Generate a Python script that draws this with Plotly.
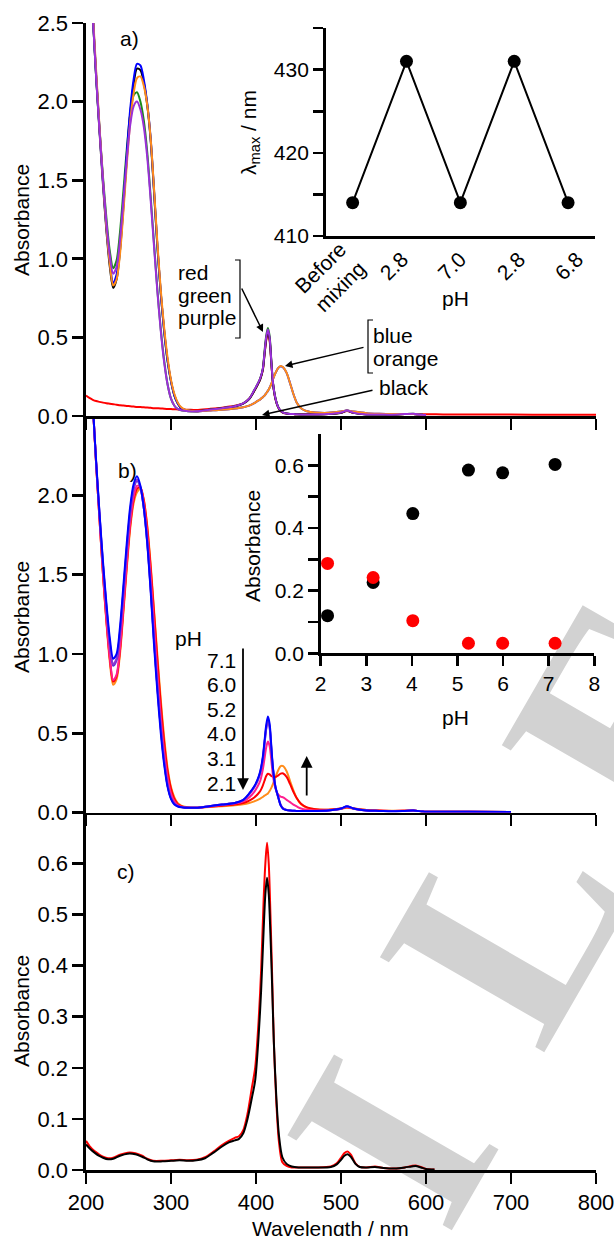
import plotly.graph_objects as go

# ---------------- DATA ----------------
WL_UV = [200, 204, 208, 212, 216, 220, 224, 228, 232, 236, 240, 244, 248, 252, 256, 260,
         264, 268, 272, 276, 280, 284, 288, 292, 296, 300, 304, 308, 312, 316, 320]
WL_VIS = [330, 345, 360, 375, 385, 392, 398, 402, 405, 408, 410, 412, 414, 416, 418, 420,
          423, 426, 429, 432, 436, 440, 444, 448, 453, 460, 470, 485, 500, 507, 515, 530,
          545, 560, 575, 585, 595, 600]
WL_VIS_B = WL_VIS + [650, 700]
WL_RED_TAIL = [620, 660, 700, 750, 800]

# panel a
A_RED_UV = [0.13, 0.115, 0.103, 0.095, 0.09, 0.085, 0.081, 0.078, 0.075, 0.072, 0.068, 0.066,
            0.064, 0.062, 0.06, 0.058, 0.057, 0.055, 0.054, 0.052, 0.05, 0.049, 0.048, 0.046,
            0.045, 0.044, 0.043, 0.042, 0.041, 0.04, 0.04]
A_RED_VIS = [0.038, 0.045, 0.053, 0.065, 0.08, 0.11, 0.16, 0.2, 0.235, 0.29, 0.39, 0.48, 0.53,
             0.48, 0.34, 0.205, 0.105, 0.055, 0.032, 0.02, 0.015, 0.013, 0.012, 0.011, 0.011,
             0.011, 0.011, 0.012, 0.02, 0.032, 0.02, 0.012, 0.011, 0.01, 0.012, 0.013, 0.011, 0.011]
A_RED_TAIL = [0.01, 0.009, 0.009, 0.008, 0.008]

A_GREEN_UV = [3.5, 3.0, 2.55, 2.15, 1.82, 1.52, 1.26, 1.05, 0.94, 0.99, 1.17, 1.43, 1.7, 1.92,
              2.04, 2.06, 2.0, 1.88, 1.68, 1.4, 1.1, 0.8, 0.55, 0.35, 0.2, 0.11, 0.065, 0.045,
              0.037, 0.033, 0.03]
A_GREEN_VIS = [0.03, 0.04, 0.05, 0.062, 0.08, 0.11, 0.165, 0.205, 0.24, 0.3, 0.41, 0.51, 0.56,
               0.51, 0.355, 0.21, 0.11, 0.058, 0.034, 0.022, 0.016, 0.013, 0.012, 0.011, 0.01,
               0.01, 0.01, 0.012, 0.022, 0.035, 0.02, 0.01, 0.01, 0.008, 0.012, 0.014, 0.008, 0.006]

A_BLACK_UV = [3.5, 3.0, 2.55, 2.15, 1.8, 1.47, 1.18, 0.95, 0.815, 0.87, 1.05, 1.33, 1.64, 1.92,
              2.11, 2.21, 2.2, 2.12, 1.98, 1.76, 1.43, 1.08, 0.78, 0.54, 0.35, 0.22, 0.13, 0.08,
              0.05, 0.04, 0.035]
A_BLACK_VIS = [0.03, 0.04, 0.05, 0.06, 0.078, 0.108, 0.16, 0.2, 0.235, 0.295, 0.39, 0.49, 0.54,
               0.49, 0.345, 0.207, 0.108, 0.057, 0.033, 0.021, 0.016, 0.013, 0.012, 0.011, 0.01,
               0.01, 0.01, 0.012, 0.021, 0.034, 0.02, 0.01, 0.01, 0.008, 0.012, 0.013, 0.008, 0.006]

A_BLUE_UV = [3.5, 3.0, 2.56, 2.17, 1.82, 1.49, 1.2, 0.98, 0.845, 0.9, 1.08, 1.36, 1.67, 1.95,
             2.14, 2.24, 2.23, 2.14, 1.99, 1.77, 1.44, 1.08, 0.78, 0.54, 0.35, 0.22, 0.13, 0.08,
             0.05, 0.04, 0.035]
A_BLUE_VIS = [0.03, 0.035, 0.04, 0.048, 0.056, 0.066, 0.082, 0.096, 0.106, 0.12, 0.13, 0.145,
              0.16, 0.18, 0.205, 0.235, 0.274, 0.304, 0.317, 0.309, 0.274, 0.21, 0.14, 0.085,
              0.05, 0.03, 0.022, 0.02, 0.028, 0.035, 0.028, 0.018, 0.014, 0.012, 0.013, 0.013,
              0.008, 0.006]

A_ORANGE_UV = [3.5, 3.0, 2.58, 2.19, 1.83, 1.5, 1.2, 0.97, 0.83, 0.87, 1.03, 1.3, 1.6, 1.87,
               2.05, 2.15, 2.16, 2.1, 1.98, 1.77, 1.45, 1.1, 0.8, 0.56, 0.37, 0.23, 0.14, 0.085,
               0.055, 0.042, 0.036]
A_ORANGE_VIS = [0.03, 0.035, 0.04, 0.048, 0.056, 0.066, 0.082, 0.096, 0.106, 0.12, 0.13, 0.145,
                0.16, 0.18, 0.205, 0.235, 0.275, 0.305, 0.318, 0.31, 0.275, 0.21, 0.14, 0.085,
                0.05, 0.03, 0.022, 0.02, 0.028, 0.035, 0.028, 0.018, 0.014, 0.012, 0.013, 0.013,
                0.008, 0.006]

A_PURPLE_UV = [3.5, 3.0, 2.55, 2.15, 1.81, 1.5, 1.23, 1.02, 0.905, 0.95, 1.12, 1.37, 1.63, 1.85,
               1.97, 2.0, 1.95, 1.84, 1.65, 1.38, 1.08, 0.79, 0.54, 0.34, 0.2, 0.11, 0.065,
               0.045, 0.037, 0.033, 0.03]
A_PURPLE_VIS = [0.03, 0.04, 0.05, 0.062, 0.08, 0.11, 0.165, 0.205, 0.24, 0.3, 0.4, 0.5, 0.55,
                0.5, 0.35, 0.21, 0.11, 0.058, 0.034, 0.022, 0.016, 0.013, 0.012, 0.011, 0.01,
                0.01, 0.01, 0.012, 0.022, 0.035, 0.02, 0.01, 0.01, 0.008, 0.012, 0.014, 0.008, 0.006]

# panel b (pH series)
B_ORANGE_UV = [3.5, 3.0, 2.58, 2.19, 1.84, 1.5, 1.2, 0.95, 0.805, 0.84, 1.0, 1.26, 1.54, 1.79,
               1.95, 2.02, 2.04, 1.97, 1.81, 1.57, 1.28, 0.99, 0.71, 0.47, 0.28, 0.16, 0.095,
               0.058, 0.043, 0.036, 0.032]
B_ORANGE_VIS = [0.03, 0.035, 0.04, 0.046, 0.052, 0.06, 0.07, 0.08, 0.088, 0.098, 0.106, 0.113,
                0.12, 0.135, 0.155, 0.18, 0.225, 0.265, 0.292, 0.292, 0.26, 0.2, 0.14, 0.09,
                0.052, 0.03, 0.02, 0.018, 0.025, 0.03, 0.025, 0.016, 0.013, 0.011, 0.012, 0.012,
                0.007, 0.005, 0.004, 0.003]
B_RED_UV = [3.5, 3.0, 2.58, 2.19, 1.84, 1.5, 1.21, 0.97, 0.825, 0.86, 1.02, 1.28, 1.56, 1.81,
            1.97, 2.04, 2.05, 1.97, 1.8, 1.55, 1.26, 0.96, 0.68, 0.44, 0.26, 0.15, 0.085, 0.052,
            0.04, 0.034, 0.031]
B_RED_VIS = [0.03, 0.036, 0.043, 0.05, 0.06, 0.075, 0.095, 0.115, 0.135, 0.17, 0.2, 0.23, 0.244,
             0.24, 0.23, 0.225, 0.224, 0.233, 0.245, 0.246, 0.225, 0.18, 0.13, 0.09, 0.055,
             0.032, 0.02, 0.017, 0.025, 0.033, 0.025, 0.015, 0.012, 0.01, 0.011, 0.012, 0.007,
             0.005, 0.004, 0.003]
B_MAGENTA_UV = [3.5, 3.0, 2.58, 2.19, 1.84, 1.51, 1.22, 0.98, 0.835, 0.87, 1.04, 1.3, 1.58,
                1.83, 1.99, 2.06, 2.05, 1.95, 1.76, 1.5, 1.19, 0.88, 0.6, 0.38, 0.22, 0.12, 0.07,
                0.045, 0.036, 0.032, 0.03]
B_MAGENTA_VIS = [0.03, 0.038, 0.047, 0.056, 0.07, 0.095, 0.13, 0.165, 0.2, 0.27, 0.34, 0.41,
                 0.447, 0.42, 0.33, 0.23, 0.15, 0.115, 0.1, 0.095, 0.08, 0.065, 0.05, 0.038,
                 0.025, 0.017, 0.013, 0.014, 0.024, 0.035, 0.024, 0.013, 0.011, 0.009, 0.011,
                 0.012, 0.007, 0.005, 0.004, 0.003]
B_VIOLET_UV = [3.5, 3.0, 2.58, 2.2, 1.87, 1.56, 1.29, 1.06, 0.925, 0.96, 1.13, 1.39, 1.66, 1.89,
               2.04, 2.09, 2.05, 1.92, 1.71, 1.42, 1.09, 0.79, 0.53, 0.32, 0.17, 0.09, 0.055,
               0.04, 0.034, 0.031, 0.03]
B_VIOLET_VIS = [0.03, 0.04, 0.05, 0.06, 0.079, 0.117, 0.162, 0.205, 0.253, 0.34, 0.437, 0.533,
                0.585, 0.543, 0.407, 0.273, 0.157, 0.1, 0.048, 0.026, 0.016, 0.012, 0.011, 0.01,
                0.01, 0.01, 0.01, 0.013, 0.024, 0.038, 0.024, 0.012, 0.01, 0.008, 0.01, 0.012,
                0.007, 0.005, 0.004, 0.003]
B_PURPLE_UV = [3.5, 3.0, 2.58, 2.2, 1.87, 1.56, 1.3, 1.07, 0.935, 0.97, 1.14, 1.4, 1.67, 1.9,
               2.05, 2.1, 2.05, 1.92, 1.71, 1.42, 1.09, 0.79, 0.53, 0.32, 0.17, 0.09, 0.055, 0.04,
               0.034, 0.031, 0.03]
B_PURPLE_VIS = [0.03, 0.04, 0.05, 0.06, 0.078, 0.115, 0.16, 0.2, 0.25, 0.335, 0.43, 0.525, 0.576,
                0.535, 0.4, 0.27, 0.155, 0.098, 0.047, 0.025, 0.016, 0.012, 0.011, 0.01, 0.01,
                0.01, 0.01, 0.013, 0.024, 0.038, 0.024, 0.012, 0.01, 0.008, 0.01, 0.012, 0.007,
                0.005, 0.004, 0.003]
B_BLUE_UV = [3.5, 3.0, 2.58, 2.21, 1.88, 1.58, 1.32, 1.1, 0.97, 1.0, 1.17, 1.43, 1.7, 1.93, 2.07,
             2.12, 2.06, 1.92, 1.7, 1.4, 1.06, 0.76, 0.5, 0.3, 0.16, 0.085, 0.05, 0.038, 0.033,
             0.03, 0.03]
B_BLUE_VIS = [0.03, 0.04, 0.05, 0.06, 0.08, 0.12, 0.165, 0.21, 0.26, 0.35, 0.45, 0.55, 0.605,
              0.56, 0.42, 0.28, 0.16, 0.1, 0.045, 0.022, 0.015, 0.012, 0.011, 0.01, 0.01, 0.01,
              0.01, 0.013, 0.025, 0.04, 0.025, 0.012, 0.01, 0.008, 0.01, 0.012, 0.007, 0.005,
              0.004, 0.003]
PH_LABELS = ["7.1", "6.0", "5.2", "4.0", "3.1", "2.1"]

# panel c
WL_C = [200, 205, 210, 215, 220, 226, 232, 240, 249, 258, 266, 272, 279, 290, 300, 310, 320, 330,
        340, 350, 360, 368, 375, 380, 385, 390, 395, 399, 403, 406, 409, 411, 413, 415, 417, 419,
        421, 424, 427, 431, 436, 442, 450, 470, 488, 495, 500, 504, 508, 512, 517, 522, 530, 540,
        550, 565, 575, 583, 588, 594, 600, 610]
C_RED = [0.057, 0.045, 0.037, 0.031, 0.026, 0.023, 0.024, 0.03, 0.034, 0.033, 0.028, 0.022,
         0.018, 0.018, 0.019, 0.02, 0.019, 0.02, 0.025, 0.036, 0.049, 0.057, 0.063, 0.066, 0.078,
         0.11, 0.16, 0.2, 0.29, 0.39, 0.53, 0.6, 0.641, 0.6, 0.5, 0.38, 0.25, 0.13, 0.055, 0.015,
         0.008, 0.005, 0.005, 0.005, 0.007, 0.013, 0.024, 0.033, 0.036, 0.029, 0.013, 0.006,
         0.005, 0.007, 0.004, 0.003, 0.005, 0.008, 0.009, 0.006, 0.002, 0.001]
C_BLACK = [0.05, 0.041, 0.034, 0.028, 0.024, 0.021, 0.022, 0.028, 0.032, 0.031, 0.026, 0.021,
           0.017, 0.017, 0.018, 0.019, 0.018, 0.019, 0.023, 0.034, 0.046, 0.054, 0.058, 0.061,
           0.072, 0.1, 0.14, 0.175, 0.26, 0.35, 0.47, 0.54, 0.572, 0.54, 0.46, 0.36, 0.25, 0.14,
           0.068, 0.025, 0.012, 0.007, 0.005, 0.005, 0.006, 0.011, 0.02, 0.028, 0.031, 0.025,
           0.012, 0.006, 0.005, 0.006, 0.004, 0.003, 0.005, 0.007, 0.008, 0.005, 0.002, 0.001]

# inset a
INSET_A_LABELS = ["Before<br>mixing", "2.8", "7.0", "2.8", "6.8"]
INSET_A_LAMBDA = [414, 431, 414, 431, 414]

# inset b
INSET_B_PH = [2.15, 3.15, 4.02, 5.24, 5.99, 7.14]
INSET_B_ABS414 = [0.12, 0.226, 0.446, 0.585, 0.576, 0.603]
INSET_B_ABS431 = [0.287, 0.242, 0.104, 0.032, 0.032, 0.032]

WATERMARK_LETTERS = ["I", "L", "E"]

# ---------------- LAYOUT HELPERS ----------------
W, H = 614, 1236
ML, MR, MT, MB = 86, 18, 23, 66
PW, PH_ = W - ML - MR, H - MT - MB


def PX(x):
    return (x - ML) / PW


def PY(y):
    return (H - MB - y) / PH_


FONT = "Liberation Sans, Arial, sans-serif"
C_RED_ = "#ff0000"
C_GREEN = "#1a8a1a"
C_BLUE = "#0000ff"
C_ORANGE = "#ff8c1a"
C_PURPLE = "#9b30d9"
C_MAG = "#ff1f8f"
C_VIOLET = "#5a28d8"

fig = go.Figure()


def spec(x, y, color, xa, ya, w=2.0):
    fig.add_trace(go.Scatter(x=x, y=y, mode="lines", xaxis=xa, yaxis=ya,
                             line=dict(color=color, width=w, shape="spline", smoothing=0.8),
                             showlegend=False, hoverinfo="skip"))


# panel a traces (xaxis3 / yaxis3)
spec(WL_UV + WL_VIS + WL_RED_TAIL, A_RED_UV + A_RED_VIS + A_RED_TAIL, C_RED_, "x3", "y3")
spec(WL_UV + WL_VIS, A_GREEN_UV + A_GREEN_VIS, C_GREEN, "x3", "y3")
spec(WL_UV + WL_VIS, A_BLACK_UV + A_BLACK_VIS, "#000000", "x3", "y3")
spec(WL_UV + WL_VIS, A_BLUE_UV + A_BLUE_VIS, C_BLUE, "x3", "y3")
spec(WL_UV + WL_VIS, A_ORANGE_UV + A_ORANGE_VIS, C_ORANGE, "x3", "y3")
spec(WL_UV + WL_VIS, A_PURPLE_UV + A_PURPLE_VIS, C_PURPLE, "x3", "y3")

# panel b traces (xaxis2 / yaxis2)
spec(WL_UV + WL_VIS_B, B_ORANGE_UV + B_ORANGE_VIS, C_ORANGE, "x2", "y2")
spec(WL_UV + WL_VIS_B, B_RED_UV + B_RED_VIS, C_RED_, "x2", "y2")
spec(WL_UV + WL_VIS_B, B_MAGENTA_UV + B_MAGENTA_VIS, C_MAG, "x2", "y2")
spec(WL_UV + WL_VIS_B, B_VIOLET_UV + B_VIOLET_VIS, C_VIOLET, "x2", "y2")
spec(WL_UV + WL_VIS_B, B_PURPLE_UV + B_PURPLE_VIS, "#8a3ad0", "x2", "y2")
spec(WL_UV + WL_VIS_B, B_BLUE_UV + B_BLUE_VIS, C_BLUE, "x2", "y2")

# panel c traces
spec(WL_C, C_RED, C_RED_, "x", "y")
spec(WL_C, C_BLACK, "#000000", "x", "y")

# inset a
fig.add_trace(go.Scatter(x=list(range(len(INSET_A_LAMBDA))), y=INSET_A_LAMBDA,
                         mode="lines+markers", xaxis="x4", yaxis="y4",
                         line=dict(color="black", width=2),
                         marker=dict(color="black", size=13),
                         showlegend=False, hoverinfo="skip", cliponaxis=False))
# inset b
fig.add_trace(go.Scatter(x=INSET_B_PH, y=INSET_B_ABS414, mode="markers", xaxis="x5", yaxis="y5",
                         marker=dict(color="black", size=13), showlegend=False,
                         hoverinfo="skip", cliponaxis=False))
fig.add_trace(go.Scatter(x=INSET_B_PH, y=INSET_B_ABS431, mode="markers", xaxis="x5", yaxis="y5",
                         marker=dict(color="#ff0000", size=13), showlegend=False,
                         hoverinfo="skip", cliponaxis=False))

AX = dict(showline=True, linecolor="black", linewidth=2.6, ticks="outside", ticklen=11,
          tickwidth=2.6, tickcolor="black", showgrid=False, zeroline=False, automargin=False,
          tickfont=dict(family=FONT, size=22, color="black"))

yb_c = PY(812.5)
yb_b = PY(416)

fig.update_layout(
    template="none",
    width=W, height=H, margin=dict(l=ML, r=MR, t=MT, b=MB, autoexpand=False),
    paper_bgcolor="white", plot_bgcolor="rgba(0,0,0,0)",
    font=dict(family=FONT, size=21, color="black"),
    showlegend=False,
    xaxis=dict(AX, domain=[0, 1], range=[200, 800], tickvals=[200, 300, 400, 500, 600, 700, 800],
               anchor="y", ticklabeloverflow="allow"),
    yaxis=dict(AX, domain=[0, yb_c], range=[0, 0.7],
               tickvals=[0, 0.1, 0.2, 0.3, 0.4, 0.5, 0.6], tickformat=".1f", anchor="x"),
    xaxis2=dict(AX, domain=[0, 1], range=[200, 800],
                tickvals=[200, 300, 400, 500, 600, 700, 800], showticklabels=False, anchor="y2"),
    yaxis2=dict(AX, domain=[yb_c, yb_b], range=[0, 2.5], tickvals=[0, 0.5, 1.0, 1.5, 2.0],
                tickformat=".1f", anchor="x2"),
    xaxis3=dict(AX, domain=[0, 1], range=[200, 800],
                tickvals=[200, 300, 400, 500, 600, 700, 800], showticklabels=False, anchor="y3"),
    yaxis3=dict(AX, domain=[yb_b, 1], range=[0, 2.5], tickvals=[0, 0.5, 1.0, 1.5, 2.0, 2.5],
                tickformat=".1f", anchor="x3", ticklabeloverflow="allow"),
    xaxis4=dict(AX, domain=[PX(325.7), PX(595)], range=[-0.5, 4.5],
                tickvals=list(range(len(INSET_A_LABELS))), showticklabels=False,
                ticks="", anchor="y4"),
    yaxis4=dict(AX, domain=[PY(236), PY(28)], range=[410, 435],
                tickvals=[410, 415, 420, 425, 430, 435],
                ticktext=["410", "", "420", "", "430", ""], anchor="x4", ticklen=10,
                tickfont=dict(family=FONT, size=21, color="black")),
    xaxis5=dict(AX, domain=[PX(320.7), PX(594.3)], range=[2, 8],
                tickvals=[2, 3, 4, 5, 6, 7, 8], anchor="y5", ticklen=10,
                tickfont=dict(family=FONT, size=21, color="black")),
    yaxis5=dict(AX, domain=[PY(653.3), PY(434)], range=[0, 0.7],
                tickvals=[0, 0.1, 0.2, 0.3, 0.4, 0.5, 0.6],
                ticktext=["0.0", "", "0.2", "", "0.4", "", "0.6"], anchor="x5", ticklen=10,
                tickfont=dict(family=FONT, size=21, color="black")),
)

ann = []


def txt(x, y, s, xanchor="left", angle=0, size=21, align="left"):
    ann.append(dict(x=PX(x), y=PY(y), xref="paper", yref="paper", text=s, showarrow=False,
                    xanchor=xanchor, yanchor="middle", textangle=angle, align=align,
                    font=dict(family=FONT, size=size, color="black")))


def arrow(tx, ty, sx, sy, width=1.5, size=1.0):
    ann.append(dict(x=PX(tx), y=PY(ty), xref="paper", yref="paper", text="", showarrow=True,
                    ax=sx - tx, ay=sy - ty, arrowhead=2, arrowsize=size, arrowwidth=width,
                    arrowcolor="black"))


# axis titles
for yc in (220, 617, 1011):
    txt(21, yc, "Absorbance", xanchor="center", angle=-90)
txt(330, 1228, "Wavelength / nm", xanchor="center")
txt(250, 133, "λ<sub>max</sub> / nm", xanchor="center", angle=-90)
txt(455, 299, "pH", xanchor="center")
txt(252, 546, "Absorbance", xanchor="center", angle=-90)
txt(455, 717, "pH", xanchor="center")

# inset a category labels (rotated)
INSET_A_LABEL_POS = [(330, 277), (393, 266), (451, 266), (510, 266), (568, 266)]
for lab, (lx, ly) in zip(INSET_A_LABELS, INSET_A_LABEL_POS):
    txt(lx, ly, lab, xanchor="center", angle=-45, align="right")

# panel labels
txt(129, 39, "a)", xanchor="center")
txt(127, 470, "b)", xanchor="center")
txt(126, 871, "c)", xanchor="center")

# panel a labels
txt(176, 272, "red")
txt(176, 295, "green")
txt(176, 318, "purple")
txt(371, 335, "blue")
txt(371, 358, "orange")
txt(377, 388, "black")
arrow(263, 332, 241, 287)
arrow(285, 366, 365, 347)
arrow(262, 415, 374, 390)

# panel b labels
txt(173, 638, "pH")
for i, lab in enumerate(PH_LABELS):
    txt(205, 660 + i * 24.6, lab)
arrow(243, 790, 243, 647, width=1.8, size=1.3)
arrow(306.7, 756, 306.7, 797, width=1.8, size=1.3)

fig.update_layout(annotations=ann)

shapes = []


def bracket(x, y0, y1, dx):
    shapes.append(dict(type="path", xref="paper", yref="paper",
                       path=f"M {PX(x + dx)},{PY(y0)} L {PX(x)},{PY(y0)} L {PX(x)},{PY(y1)} L {PX(x + dx)},{PY(y1)}",
                       line=dict(color="black", width=1.2)))


bracket(240, 260, 338, -5)
bracket(368, 320, 373, 5)

# watermark letters (grey, rotated, behind the data)
WM_POS = [(363, 1125), (478, 908), (600, 696)]
for letter, (cx, cy) in zip(WATERMARK_LETTERS, WM_POS):
    shapes.append(dict(type="rect", xref="paper", yref="paper", layer="below",
                       x0=PX(cx - 2), x1=PX(cx + 2), y0=PY(cy + 2), y1=PY(cy - 2),
                       line=dict(width=0), fillcolor="rgba(0,0,0,0)",
                       label=dict(text=letter, textangle=-60, textposition="middle center",
                                  font=dict(family="Liberation Serif", size=290,
                                            color="#d2d2d2", weight="bold"))))
fig.update_layout(shapes=shapes)

fig.write_html("out.html", config={"displayModeBar": False, "staticPlot": True},
               post_script="document.body.style.margin='0px';"
                           "document.body.style.overflow='hidden';")
